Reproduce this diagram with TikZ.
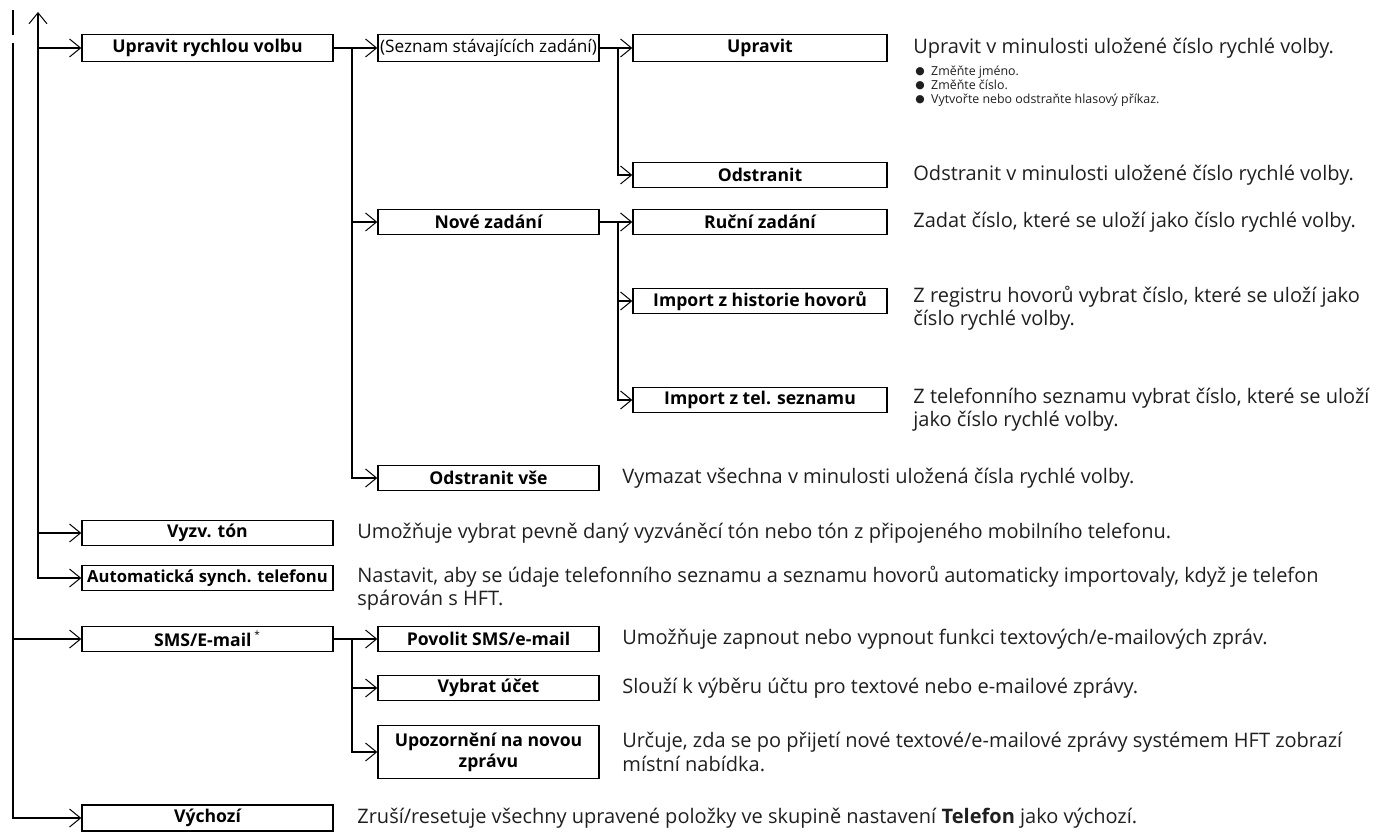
\documentclass[tikz,border=0pt]{standalone}
\usepackage{fontspec}
\setmainfont{Open Sans}
\newfontfamily\dotfont{DejaVu Sans}
\usetikzlibrary{arrows.meta}
\newcommand{\bulletdot}{{\dotfont\fontsize{5.4}{5.4}\selectfont\raisebox{0.3pt}{●}}\hspace{3.2pt}}
\tikzset{
  link/.style={line width=1pt, draw=black},
  tip/.style={-{Straight Barb[length=5.5pt, width=9pt, line width=0.5pt]}},
  tips/.style={{Straight Barb[length=5.5pt, width=9pt, line width=0.5pt]}-{Straight Barb[length=5.5pt, width=9pt, line width=0.5pt]}},
  menubox/.style={draw=black, line width=0.7pt, inner sep=0pt, minimum height=12.5pt,
    align=center, font=\bfseries\fontsize{8.8}{10.4}\selectfont},
  lvlone/.style={menubox, minimum width=125.5pt},
  lvltwo/.style={menubox, minimum width=110.5pt},
  lvlthree/.style={menubox, minimum width=127pt},
  desc/.style={anchor=west, inner sep=0pt, align=left, text=black!88,
    font=\fontsize{10}{11.7}\selectfont},
  bullets/.style={anchor=west, inner sep=0pt, align=left, text=black!88,
    font=\fontsize{6.2}{7}\selectfont},
}

\begin{document}
\begin{tikzpicture}[x=0.5pt, y=-0.5pt]
\useasboundingbox (0,0) rectangle (1374,833);

% trunks and junctions
\coordinate (itop) at (38,12);
\coordinate (otop) at (13,43);
\coordinate (j1) at (352,48);
\coordinate (j2) at (618,48);
\coordinate (j3) at (618,222);
\coordinate (j4) at (352,639);

% first level
\node[lvlone, minimum height=13.5pt] (upr) at (207.5,48) {Upravit rychlou volbu};
\node[lvlone] (vyz) at (207.5,533) {Vyzv. tón};
\node[lvlone, font=\bfseries\fontsize{8.3}{10}\selectfont] (aut) at (207.5,578) {Automatická synch. telefonu};
\node[lvlone] (sms) at (207.5,639) {SMS/E-mail\,\textsuperscript{\mdseries\fontsize{5}{5}\selectfont *}};
\node[lvlone, minimum height=13pt] (vych) at (207.5,818) {Výchozí};

% second level
\node[lvltwo, minimum height=13.5pt, font=\fontsize{8.6}{10}\selectfont] (sez) at (488.5,48) {(Seznam stávajících zadání)};
\node[lvltwo] (nov) at (488.5,222) {Nové zadání};
\node[lvltwo] (odsv) at (488.5,478) {Odstranit vše};
\node[lvltwo] (pov) at (488.5,639) {Povolit SMS/e-mail};
\node[lvltwo] (vyb) at (488.5,688) {Vybrat účet};
\node[lvltwo, minimum height=26.5pt] (upo) at (488.5,752) {Upozornění na novou\\zprávu};

% third level
\node[lvlthree, minimum height=13.5pt] (upv) at (760,48) {Upravit};
\node[lvlthree] (ods) at (760,175) {Odstranit};
\node[lvlthree] (ruc) at (760,222) {Ruční zadání};
\node[lvlthree] (imh) at (760,301) {Import z historie hovorů};
\node[lvlthree] (imt) at (760,400) {Import z tel. seznamu};

% descriptions
\node[desc] (dupv) at (913,48) {Upravit v minulosti uložené číslo rychlé volby.};
\node[bullets] (lupv) at (915,86) {\bulletdot Změňte jméno.\\\bulletdot Změňte číslo.\\\bulletdot Vytvořte nebo odstraňte hlasový příkaz.};
\node[desc] (dods) at (913,175) {Odstranit v minulosti uložené číslo rychlé volby.};
\node[desc] (druc) at (913,222) {Zadat číslo, které se uloží jako číslo rychlé volby.};
\node[desc] (dimh) at (913,308) {Z registru hovorů vybrat číslo, které se uloží jako\\číslo rychlé volby.};
\node[desc] (dimt) at (913,410) {Z telefonního seznamu vybrat číslo, které se uloží\\jako číslo rychlé volby.};
\node[desc] (dodsv) at (622,478) {Vymazat všechna v minulosti uložená čísla rychlé volby.};
\node[desc] (dvyz) at (357,533) {Umožňuje vybrat pevně daný vyzváněcí tón nebo tón z připojeného mobilního telefonu.};
\node[desc] (daut) at (357,588) {Nastavit, aby se údaje telefonního seznamu a seznamu hovorů automaticky importovaly, když je telefon\\spárován s HFT.};
\node[desc] (dpov) at (622,639) {Umožňuje zapnout nebo vypnout funkci textových/e-mailových zpráv.};
\node[desc] (dvyb) at (622,688) {Slouží k výběru účtu pro textové nebo e-mailové zprávy.};
\node[desc] (dupo) at (622,752) {Určuje, zda se po přijetí nové textové/e-mailové zprávy systémem HFT zobrazí\\místní nabídka.};
\node[desc] (dvych) at (357,818) {Zruší/resetuje všechny upravené položky ve skupině nastavení \textbf{Telefon} jako výchozí.};

% inner trunk
\draw[link, tips] (itop) |- (aut.west);
\draw[link, tip] (itop |- upr.west) -- (upr.west);
\draw[link, tip] (itop |- vyz.west) -- (vyz.west);

% outer trunk
\draw[link] (13,10) -- (13,35);
\draw[link, tip] (otop) |- (vych.west);
\draw[link, tip] (otop |- sms.west) -- (sms.west);

% second level branches
\draw[link, tip] (upr.east) -- (sez.west);
\draw[link, tip] (j1) |- (odsv.west);
\draw[link, tip] (j1 |- nov.west) -- (nov.west);
\draw[link, tip] (sms.east) -- (pov.west);
\draw[link, tip] (j4) |- (upo.west);
\draw[link, tip] (j4 |- vyb.west) -- (vyb.west);

% third level branches
\draw[link, tip] (sez.east) -- (upv.west);
\draw[link, tip] (j2) |- (ods.west);
\draw[link, tip] (nov.east) -- (ruc.west);
\draw[link, tip] (j3) |- (imt.west);
\draw[link, tip] (j3 |- imh.west) -- (imh.west);
\end{tikzpicture}
\end{document}
